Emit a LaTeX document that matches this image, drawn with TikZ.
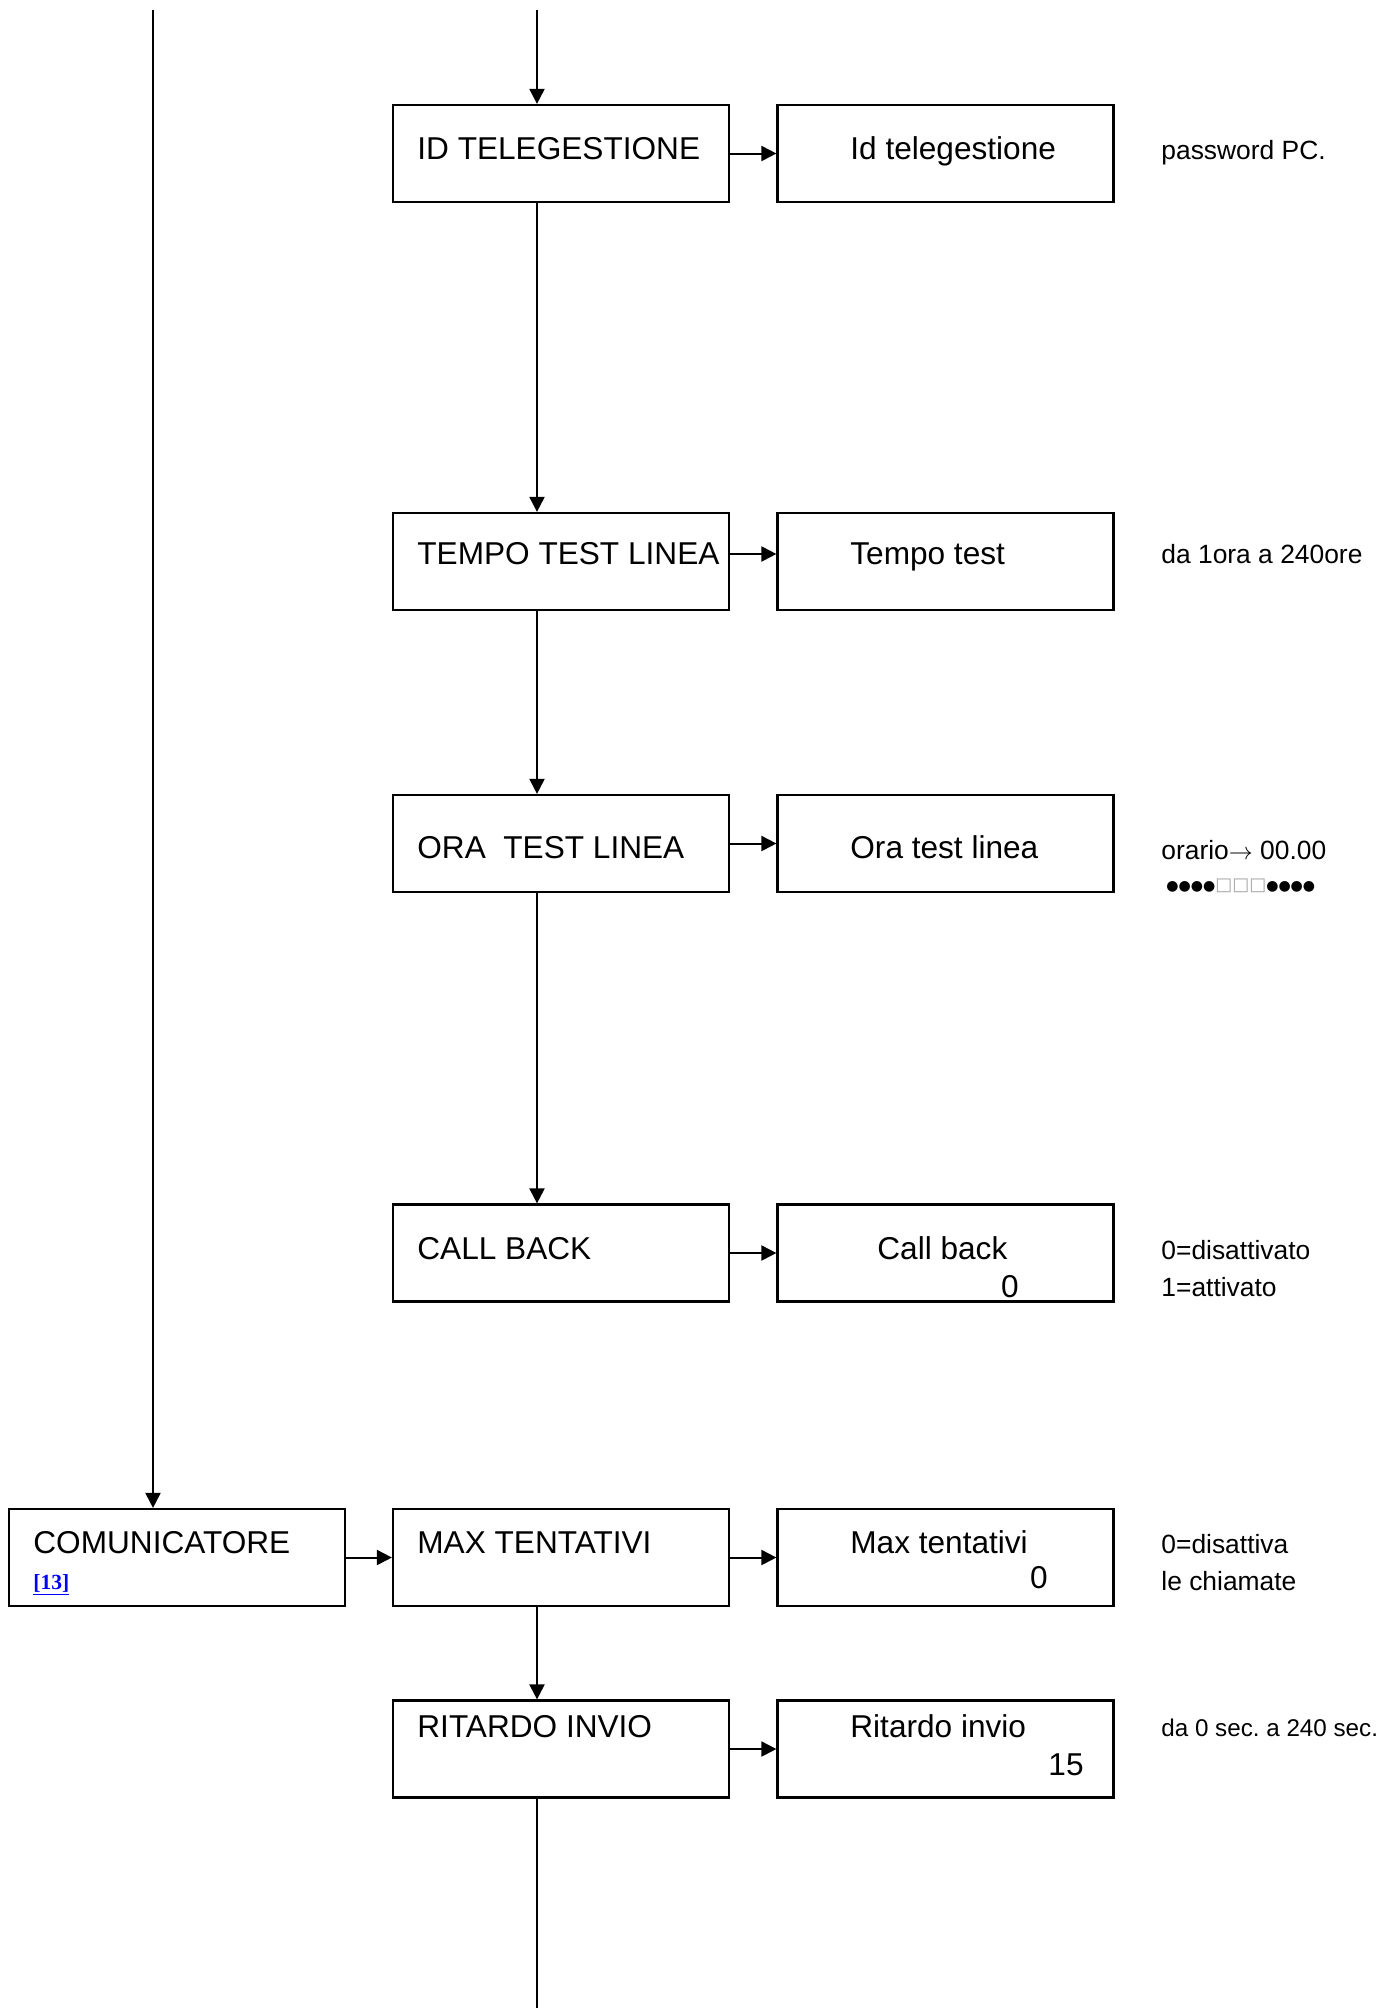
\documentclass[tikz,border=0pt]{standalone}
\usepackage{fontspec}
\setmainfont{Liberation Sans}
\newfontfamily\serifb{Liberation Serif}
\newfontfamily\symf{DejaVu Sans}
\usetikzlibrary{arrows.meta}
\definecolor{linkblue}{RGB}{0,0,255}
\frenchspacing
\begin{document}
\begin{tikzpicture}[x=0.5pt,y=-0.5pt,
  box/.style={draw, line width=1.1pt, minimum width=168pt, minimum height=48.5pt, inner sep=0pt},
  lbl/.style={anchor=base west, inner sep=0pt, font=\fontsize{15.8}{19}\selectfont},
  val/.style={anchor=base east, inner sep=0pt, font=\fontsize{15.8}{19}\selectfont},
  note/.style={anchor=base west, inner sep=0pt, font=\fontsize{13.2}{16}\selectfont},
  arr/.style={line width=1pt, -{Triangle[length=7.5pt,width=7.5pt]}},
  ln/.style={line width=1pt}]
\useasboundingbox (0,0) rectangle (1394,2008);
\coordinate (top0) at (153,10);
\coordinate (top1) at (537,10);
\coordinate (bot1) at (537,2008);
\node[box] (idtel) at (561,153.5){};
\node[box] (idtelv) at (945.5,153.5){};
\node[box] (tempo) at (561,561.5){};
\node[box] (tempov) at (945.5,561.5){};
\node[box] (ora) at (561,843.5){};
\node[box] (orav) at (945.5,843.5){};
\node[box] (callb) at (561,1253){};
\node[box] (callbv) at (945.5,1253){};
\node[box] (comm) at (177,1557.5){};
\node[box] (maxt) at (561,1557.5){};
\node[box] (maxtv) at (945.5,1557.5){};
\node[box] (rit) at (561,1749){};
\node[box] (ritv) at (945.5,1749){};
\node[lbl] (idtel-t) at (417,159){ID TELEGESTIONE};
\node[lbl] (idtelv-t) at (850,159){Id telegestione};
\node[note] (idtel-n) at (1161,159){password PC.};
\node[lbl] (tempo-t) at (417,564){TEMPO TEST LINEA};
\node[lbl] (tempov-t) at (850,564){Tempo test};
\node[note] (tempo-n) at (1161,563){da 1ora a 240ore};
\node[lbl] (ora-t) at (417,858){ORA\ \ TEST LINEA};
\node[lbl] (orav-t) at (850,858){Ora test linea};
\node[note] (ora-n) at (1161,859){orario\(\rightarrow\) 00.00};
\node[note, font=\symf\fontsize{7}{9}\selectfont] (ora-d) at (1166,890){●●●●{\color{gray!70}\fontsize{9}{10}\selectfont □□□}●●●●};
\node[lbl] (callb-t) at (417,1259){CALL BACK};
\node[lbl] (callbv-t) at (877,1259){Call back};
\node[val] (callbv-v) at (1019,1297){0};
\node[note] (callb-n1) at (1161,1259){0=disattivato};
\node[note] (callb-n2) at (1161,1296){1=attivato};
\node[lbl] (comm-t) at (33,1553){COMUNICATORE};
\node[lbl, font=\serifb\bfseries\fontsize{10.8}{13}\selectfont, text=linkblue] (comm-r) at (33,1589){\underline{[13]}};
\node[lbl] (maxt-t) at (417,1553){MAX TENTATIVI};
\node[lbl] (maxtv-t) at (850,1553){Max tentativi};
\node[val] (maxtv-v) at (1048,1588){0};
\node[note] (maxt-n1) at (1161,1553){0=disattiva};
\node[note] (maxt-n2) at (1161,1590){le chiamate};
\node[lbl] (rit-t) at (417,1737){RITARDO INVIO};
\node[lbl] (ritv-t) at (850,1737){Ritardo invio};
\node[val] (ritv-v) at (1084,1775){15};
\node[note, font=\fontsize{12.1}{15}\selectfont] (rit-n) at (1161,1736){da 0 sec. a 240 sec.};
\draw[arr] (top0) -- (top0 |- comm.north);
\draw[arr] (top1) -- (top1 |- idtel.north);
\draw[arr] (idtel.south -| top1) -- (tempo.north -| top1);
\draw[arr] (tempo.south -| top1) -- (ora.north -| top1);
\draw[arr] (ora.south -| top1) -- (callb.north -| top1);
\draw[arr] (maxt.south -| top1) -- (rit.north -| top1);
\draw[ln] (rit.south -| top1) -- (bot1);
\draw[arr] (idtel) -- (idtelv);
\draw[arr] ([yshift=3.75pt]tempo.east) -- ([yshift=3.75pt]tempov.west);
\draw[arr] (ora) -- (orav);
\draw[arr] (callb) -- (callbv);
\draw[arr] (comm) -- (maxt);
\draw[arr] (maxt) -- (maxtv);
\draw[arr] (rit) -- (ritv);
\end{tikzpicture}
\end{document}
